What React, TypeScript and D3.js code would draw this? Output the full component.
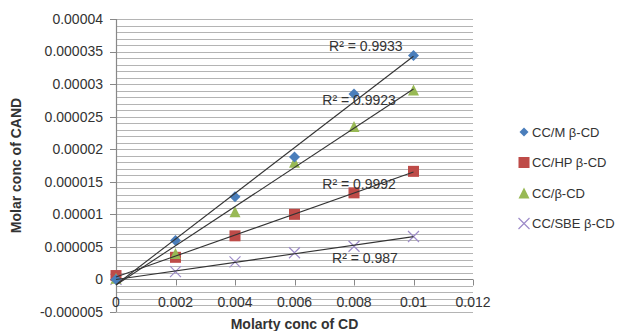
import React, { useEffect, useRef } from "react";
import * as d3 from "d3";

const xValues = [0, 0.002, 0.004, 0.006, 0.008, 0.01];
const seriesNames = ["CC/M β-CD", "CC/HP β-CD", "CC/β-CD", "CC/SBE β-CD"];
const mValues = [0, 0.000006, 0.0000127, 0.0000188, 0.0000285, 0.0000344];
const hpValues = [0.0000006, 0.0000034, 0.0000067, 0.00001, 0.0000133, 0.0000166];
const bValues = [0.0000002, 0.000004, 0.0000104, 0.000018, 0.0000235, 0.0000291];
const sbeValues = [0, 0.0000012, 0.0000027, 0.0000041, 0.0000051, 0.0000066];
const r2Labels = ["R² = 0.9933", "R² = 0.9992", "R² = 0.9923", "R² = 0.987"];
// label anchor in data units [x, y], in the same order as series
const r2Pos = [
  [0.0084, 0.0000358],
  [0.00817, 0.0000147],
  [0.00817, 0.0000276],
  [0.00837, 0.0000033],
];
const xTicks = [0, 0.002, 0.004, 0.006, 0.008, 0.01, 0.012];
const xTickLabels = ["0", "0.002", "0.004", "0.006", "0.008", "0.01", "0.012"];
const yTicks = [-0.000005, 0, 0.000005, 0.00001, 0.000015, 0.00002, 0.000025, 0.00003, 0.000035, 0.00004];
const yTickLabels = ["-0.000005", "0", "0.000005", "0.00001", "0.000015", "0.00002", "0.000025", "0.00003", "0.000035", "0.00004"];

const colors = ["#4a7ebb", "#be4b48", "#98b954", "#9d8bc9"];
const shapes = ["diamond", "square", "triangle", "cross"];

const FONT = "'Liberation Sans', Arial, sans-serif";
const TEXT = "#333";

function linReg(xs: number[], ys: number[]) {
  const mx = d3.mean(xs)!;
  const my = d3.mean(ys)!;
  let num = 0;
  let den = 0;
  xs.forEach((x, i) => {
    num += (x - mx) * (ys[i] - my);
    den += (x - mx) * (x - mx);
  });
  const slope = num / den;
  return { slope, intercept: my - slope * mx };
}

function drawMarker(g: any, shape: string, cx: number, cy: number, color: string, s: number) {
  if (shape === "diamond") {
    g.append("path")
      .attr("d", `M${cx},${cy - s / 2}L${cx + s / 2},${cy}L${cx},${cy + s / 2}L${cx - s / 2},${cy}Z`)
      .attr("fill", color);
  } else if (shape === "square") {
    g.append("rect")
      .attr("x", cx - s / 2)
      .attr("y", cy - s / 2)
      .attr("width", s)
      .attr("height", s)
      .attr("fill", color);
  } else if (shape === "triangle") {
    g.append("path")
      .attr("d", `M${cx},${cy - s / 2}L${cx + s / 2},${cy + s / 2}L${cx - s / 2},${cy + s / 2}Z`)
      .attr("fill", color);
  } else {
    const h = s / 2;
    g.append("path")
      .attr("d", `M${cx - h},${cy - h}L${cx + h},${cy + h}M${cx - h},${cy + h}L${cx + h},${cy - h}`)
      .attr("stroke", color)
      .attr("stroke-width", 1.2)
      .attr("fill", "none");
  }
}

const Chart: React.FC = () => {
  const svgRef = useRef<SVGSVGElement>(null);

  useEffect(() => {
    const width = 618;
    const height = 331;
    const left = 116;
    const right = 473;
    const top = 19;
    const bottom = 312;

    d3.select(svgRef.current).selectAll("*").remove();
    const svg = d3
      .select(svgRef.current)
      .attr("width", width)
      .attr("height", height)
      .style("font-family", FONT);

    svg.append("rect").attr("width", width).attr("height", height).attr("fill", "#fff");

    const x = d3.scaleLinear().domain([0, 0.012]).range([left, right]);
    const y = d3.scaleLinear().domain([-0.000005, 0.00004]).range([bottom, top]);

    // gridlines every 0.000001
    const minor = d3.range(-5, 41).map((k) => k * 0.000001);
    svg
      .append("g")
      .selectAll("line")
      .data(minor)
      .join("line")
      .attr("x1", left)
      .attr("x2", right)
      .attr("y1", (d) => Math.round(y(d)) + 0.5)
      .attr("y2", (d) => Math.round(y(d)) + 0.5)
      .attr("stroke", "#b4b4b4")
      .attr("stroke-width", 1);

    // y axis
    svg
      .append("line")
      .attr("x1", left + 0.5)
      .attr("x2", left + 0.5)
      .attr("y1", top)
      .attr("y2", bottom)
      .attr("stroke", "#888")
      .attr("stroke-width", 1.2);
    svg
      .append("g")
      .selectAll("line")
      .data(yTicks)
      .join("line")
      .attr("x1", left - 6)
      .attr("x2", left)
      .attr("y1", (d) => Math.round(y(d)) + 0.5)
      .attr("y2", (d) => Math.round(y(d)) + 0.5)
      .attr("stroke", "#888");
    svg
      .append("g")
      .selectAll("text")
      .data(yTicks)
      .join("text")
      .attr("x", left - 13)
      .attr("y", (d) => y(d))
      .attr("dy", "0.35em")
      .attr("text-anchor", "end")
      .attr("font-size", 14)
      .attr("fill", TEXT)
      .text((d, i) => yTickLabels[i]);

    // x axis at zero
    const y0 = Math.round(y(0)) + 0.5;
    svg
      .append("line")
      .attr("x1", left)
      .attr("x2", right)
      .attr("y1", y0)
      .attr("y2", y0)
      .attr("stroke", "#888")
      .attr("stroke-width", 1.2);
    svg
      .append("g")
      .selectAll("line")
      .data(xTicks)
      .join("line")
      .attr("x1", (d) => Math.round(x(d)) + 0.5)
      .attr("x2", (d) => Math.round(x(d)) + 0.5)
      .attr("y1", y0)
      .attr("y2", y0 + 6)
      .attr("stroke", "#888");
    svg
      .append("g")
      .selectAll("text")
      .data(xTicks)
      .join("text")
      .attr("x", (d) => x(d))
      .attr("y", 307)
      .attr("text-anchor", "middle")
      .attr("font-size", 14)
      .attr("fill", TEXT)
      .text((d, i) => xTickLabels[i]);

    // axis titles
    svg
      .append("text")
      .attr("x", (left + right) / 2)
      .attr("y", 329)
      .attr("text-anchor", "middle")
      .attr("font-size", 14)
      .attr("font-weight", "bold")
      .attr("fill", TEXT)
      .text("Molarty conc of CD");
    svg
      .append("text")
      .attr("transform", `translate(21,${(top + bottom) / 2}) rotate(-90)`)
      .attr("text-anchor", "middle")
      .attr("font-size", 14)
      .attr("font-weight", "bold")
      .attr("fill", TEXT)
      .text("Molar conc of CAND");

    const allSeries = [mValues, hpValues, bValues, sbeValues];

    // markers (SBE first so the others sit on top)
    const markers = svg.append("g");
    [3, 1, 2, 0].forEach((si) => {
      allSeries[si].forEach((v, i) => {
        drawMarker(markers, shapes[si], x(xValues[i]), y(v), colors[si], 11);
      });
    });

    // linear trendlines over the markers
    allSeries.forEach((ys) => {
      const { slope, intercept } = linReg(xValues, ys);
      const x0 = xValues[0];
      const x1 = xValues[xValues.length - 1];
      svg
        .append("line")
        .attr("x1", x(x0))
        .attr("y1", y(intercept + slope * x0))
        .attr("x2", x(x1))
        .attr("y2", y(intercept + slope * x1))
        .attr("stroke", "#333")
        .attr("stroke-width", 1.1);
    });

    // R² labels
    svg
      .append("g")
      .selectAll("text")
      .data(r2Labels)
      .join("text")
      .attr("x", (d, i) => x(r2Pos[i][0]))
      .attr("y", (d, i) => y(r2Pos[i][1]))
      .attr("dy", "0.35em")
      .attr("text-anchor", "middle")
      .attr("font-size", 14)
      .attr("fill", TEXT)
      .text((d) => d);

    // legend
    const legend = svg.append("g");
    seriesNames.forEach((name, i) => {
      const ly = 132 + i * 30.5;
      const size = shapes[i] === "diamond" ? 9 : 11;
      drawMarker(legend, shapes[i], 524, ly, colors[i], size);
      legend
        .append("text")
        .attr("x", 532)
        .attr("y", ly)
        .attr("dy", "0.35em")
        .attr("font-size", 13)
        .attr("fill", TEXT)
        .text(name);
    });
  }, []);

  return <svg ref={svgRef} style={{ display: "block" }}></svg>;
};

export default function App() {
  return (
    <div style={{ position: "absolute", left: 0, top: 0 }}>
      <Chart />
    </div>
  );
}
